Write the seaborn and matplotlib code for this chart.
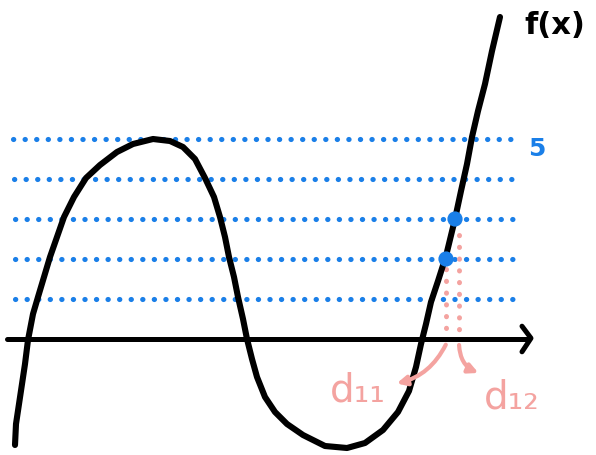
import numpy as np
import pandas as pd
import matplotlib
matplotlib.use("Agg")
import matplotlib.pyplot as plt
import seaborn as sns

# curve: x in pixels, y in "level" units (axis = 0, dotted lines = 1..5)
curve_x = [15, 16, 19, 22, 25, 28, 33, 38, 44, 50, 57, 64, 74, 86, 100, 117, 133, 153,
           170, 183, 195, 205, 214, 220, 225, 229, 234, 238, 243, 247, 252, 257, 265,
           275, 287, 303, 325, 347, 365, 383, 398, 409, 416, 421, 426, 431, 438, 446,
           455, 461, 467, 472, 478, 485, 492, 500]
curve_py = [446, 425, 405, 385, 365, 341, 315, 298, 278, 258, 238, 218, 198, 179, 166,
            153, 145, 140, 142, 148, 160, 179, 198, 218, 238, 258, 278, 298, 320, 340,
            360, 378, 398, 413, 425, 436, 447, 449, 444, 431, 413, 392, 368, 345, 325,
            303, 282, 257, 220, 192, 165, 138, 112, 85, 52, 18]
curve_y = [(340 - p) / 40 for p in curve_py]

levels = [1, 2, 3, 4, 5]
level_x_start = [15, 15, 15, 14, 13]
level_x_end = [520, 520, 520, 518, 518]

points_x = [446, 455]
points_y = [2, 3]
drop_x = [446, 459]
drop_top = [1.75, 2.6]

sns.set_theme(style="white")
plt.rcParams['font.family'] = ['DejaVu Sans']

fig = plt.figure(figsize=(5.96, 4.56), dpi=100)
ax = fig.add_axes([0, 0, 1, 1])
ax.set_xlim(0, 596)
ax.set_ylim((340 - 456) / 40, 340 / 40)
ax.axis("off")

blue = "#1a7fe8"
pink = "#f4a3a0"

# dotted levels
for lv, x0, x1 in zip(levels, level_x_start, level_x_end):
    ax.plot([x0, x1], [lv, lv], color=blue, lw=3.7, linestyle=(0, (0.05, 2.2)),
            dash_capstyle="round", zorder=1)
ax.text(537, 5 - 9 / 40, "5", color=blue, fontsize=18, fontweight="bold",
        ha="center", va="center")

# pink drops to the axis
for dx, top in zip(drop_x, drop_top):
    ax.plot([dx, dx], [top, 0.2], color=pink, lw=3.6,
            linestyle=(0, (0.05, 2.3)), dash_capstyle="round", zorder=1)

# x axis
ax.plot([7, 528], [0, 0], color="black", lw=3.6, solid_capstyle="round", zorder=2)
ax.plot([522, 531, 522], [0.32, 0.02, -0.32], color="black", lw=3.6,
        solid_capstyle="round", solid_joinstyle="round", zorder=2)

# the function
df = pd.DataFrame({"x": curve_x, "y": curve_y})
sns.lineplot(data=df, x="x", y="y", sort=False, color="black", lw=4.4, ax=ax,
             zorder=3)
ax.lines[-1].set_solid_capstyle("round")
ax.lines[-1].set_solid_joinstyle("round")

sns.scatterplot(x=points_x, y=points_y, color=blue, s=120, edgecolor="none",
                ax=ax, zorder=4)

# arrows and labels
ax.annotate("", xy=(394, (340 - 385) / 40), xytext=(447, -0.08),
            arrowprops=dict(arrowstyle="-|>", color=pink, lw=3.0,
                            connectionstyle="arc3,rad=-0.25",
                            mutation_scale=14))
ax.annotate("", xy=(481, (340 - 375) / 40), xytext=(459, -0.08),
            arrowprops=dict(arrowstyle="-|>", color=pink, lw=3.0,
                            connectionstyle="arc3,rad=0.35",
                            mutation_scale=14))
ax.text(358, (340 - 390) / 40, "d\u2081\u2081", color=pink, fontsize=28,
        ha="center", va="center")
ax.text(512, (340 - 398) / 40, "d\u2081\u2082", color=pink, fontsize=28,
        ha="center", va="center")

ax.text(555, (340 - 25) / 40, "f(x)", color="black", fontsize=22,
        fontweight="bold", ha="center", va="center")

fig.savefig("out.png", dpi=100, facecolor="white")
